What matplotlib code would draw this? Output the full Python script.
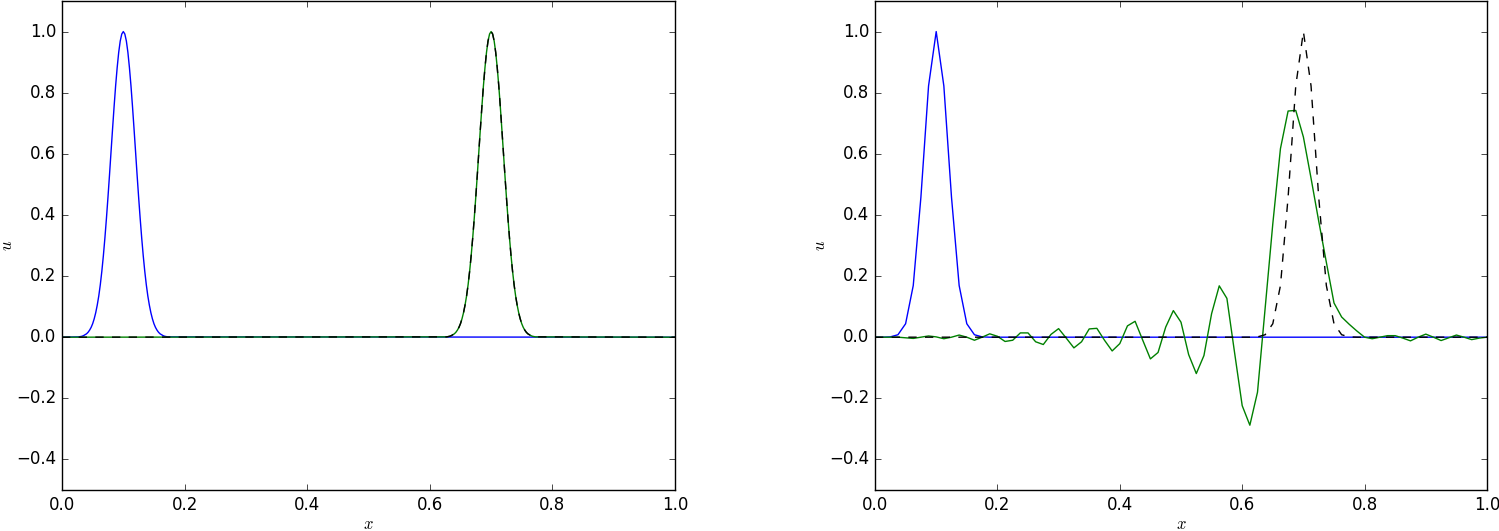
import numpy as np
import matplotlib
matplotlib.use("Agg")
import matplotlib.pyplot as plt

plt.style.use("classic")
plt.rcParams["mathtext.fontset"] = "cm"
plt.rcParams["font.family"] = ["DejaVu Sans"]

# ---------------- data ----------------
# left panel (fine grid): one side of the pulse, sampled every 0.0025 from the peak outwards
pulse_half = [0.992, 0.969, 0.932, 0.882, 0.823, 0.755, 0.682, 0.607, 0.531, 0.458,
              0.389, 0.325, 0.267, 0.216, 0.172, 0.135, 0.105, 0.080, 0.060, 0.044,
              0.032, 0.023, 0.016, 0.011, 0.008, 0.005, 0.003, 0.002, 0.001, 0.001]
pulse_fine = pulse_half[::-1] + [1.0] + pulse_half
x_left_initial = [0.0] + list(np.round(np.arange(0.025, 0.17501, 0.0025), 4)) + [1.0]
u_left_initial = [0.0] + pulse_fine + [0.0]
x_left_final = [0.0] + list(np.round(np.arange(0.625, 0.77501, 0.0025), 4)) + [1.0]
u_left_numeric = [0.0] + pulse_fine + [0.0]
u_left_exact = [0.0] + pulse_fine + [0.0]

# right panel (coarse grid, 81 points)
x_right = np.linspace(0.0, 1.0, 81)
u_right_initial = [0.0, 0.0, 0.001, 0.008, 0.044, 0.169, 0.458, 0.822, 1.0, 0.822,
                   0.458, 0.169, 0.044, 0.008, 0.001] + [0.0] * 66
u_right_exact = [0.0] * 50 + [0.001, 0.008, 0.044, 0.169, 0.458, 0.822, 1.0, 0.822,
                              0.458, 0.169, 0.044, 0.008, 0.001] + [0.0] * 18
u_right_numeric = [0.0, 0.0, 0.0, 0.0, -0.002, -0.004, 0.0, 0.004, 0.001, -0.005,
                   0.0, 0.007, 0.0, -0.010, 0.0, 0.011, 0.003, -0.014, -0.010, 0.014,
                   0.014, -0.015, -0.024, 0.009, 0.028, -0.003, -0.035, -0.015, 0.027, 0.029,
                   -0.010, -0.045, -0.021, 0.037, 0.052, -0.010, -0.071, -0.050, 0.033, 0.087,
                   0.049, -0.057, -0.119, -0.060, 0.077, 0.168, 0.127, -0.050, -0.224, -0.288,
                   -0.180, 0.095, 0.371, 0.617, 0.740, 0.742, 0.655, 0.520, 0.380, 0.245,
                   0.112, 0.066, 0.042, 0.020, 0.0, -0.005, 0.0, 0.005, 0.005, -0.003,
                   -0.012, 0.0, 0.010, 0.0, -0.011, -0.002, 0.007, 0.0, -0.008, -0.003,
                   0.0]

yticks = [-0.4, -0.2, 0.0, 0.2, 0.4, 0.6, 0.8, 1.0]
xticks = [0.0, 0.2, 0.4, 0.6, 0.8, 1.0]

# ---------------- figure ----------------
fig = plt.figure(figsize=(14.99, 5.31), dpi=100, facecolor="white")
ax1 = fig.add_axes([62 / 1499, 41 / 531, 613 / 1499, 489 / 531])
ax2 = fig.add_axes([875 / 1499, 41 / 531, 612 / 1499, 489 / 531])

ax1.plot(x_left_initial, u_left_initial, "b-")
ax1.plot(x_left_final, u_left_numeric, "g-")
ax1.plot(x_left_final, u_left_exact, "k--")

ax2.plot(x_right, u_right_initial, "b-")
ax2.plot(x_right, u_right_numeric, "g-")
ax2.plot(x_right, u_right_exact, "k--")

for ax in (ax1, ax2):
    ax.set_facecolor("white")
    ax.set_xlim(0, 1)
    ax.set_ylim(-0.5, 1.1)
    ax.set_xticks(xticks)
    ax.set_yticks(yticks)
    ax.set_xlabel("$x$", fontsize=12, labelpad=1)
    ax.set_ylabel("$u$", fontsize=12, labelpad=0)
    ax.tick_params(labelsize=12)

fig.savefig("out.png", dpi=100, facecolor="white")
